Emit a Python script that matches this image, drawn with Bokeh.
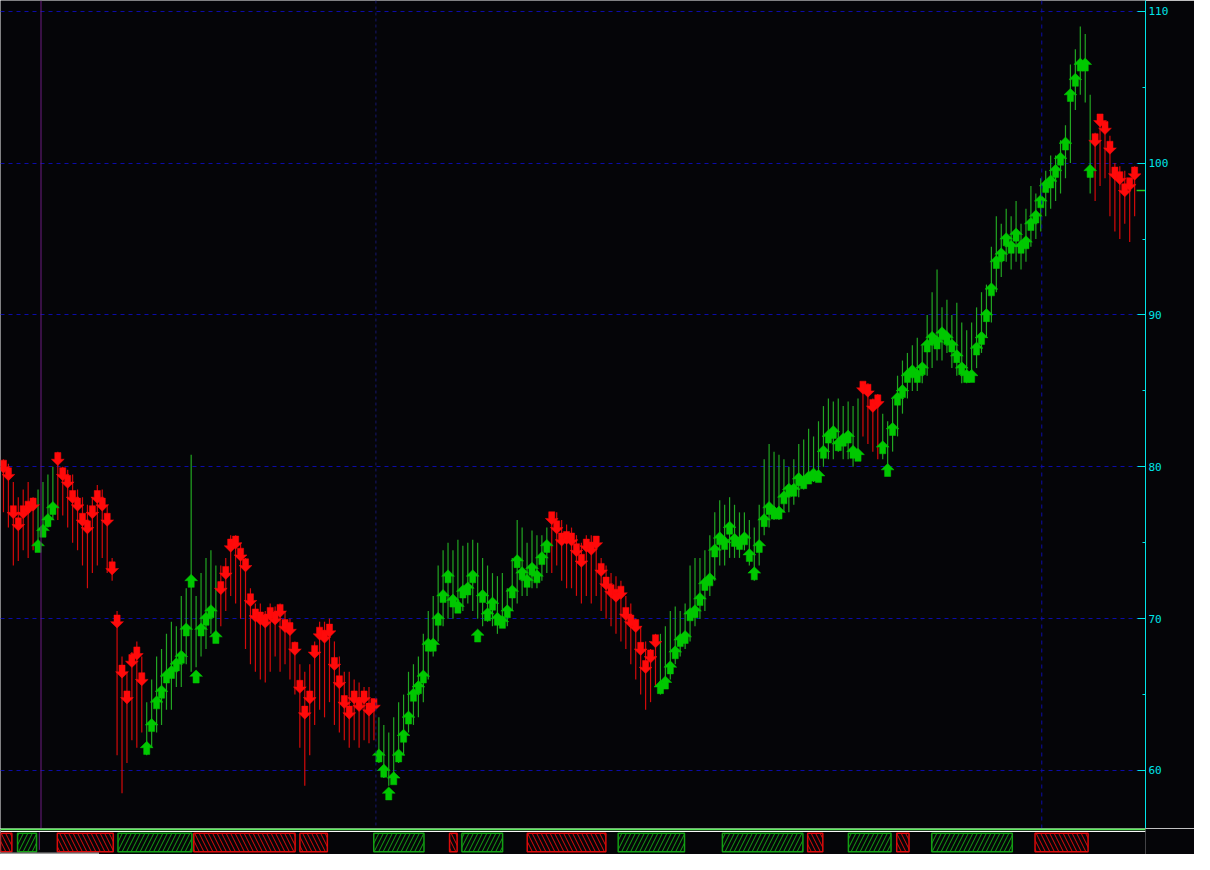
from bokeh.plotting import figure
from bokeh.models import SingleIntervalTicker, Span, ColumnDataSource, Range1d
from bokeh.layouts import column
from bokeh.embed import file_html
from bokeh.resources import INLINE

# ---------------- data ----------------
highs = [
    80.5, 80.2, 79.0, 78.0, 78.5, 79.0, 78.0, 78.5, 79.0, 79.5,
    80.0, 81.0, 80.0, 79.8, 79.5, 78.5, 78.0, 77.5, 78.0, 78.8,
    78.5, 77.5, 74.0, 70.5, 67.5, 66.5, 67.8, 68.5, 67.5, 64.5,
    66.0, 67.5, 68.0, 69.0, 69.8, 69.5, 71.5, 72.0, 80.8, 71.5,
    73.0, 74.0, 74.5, 73.5, 73.5, 74.0, 75.5, 75.5, 75.0, 74.0,
    72.0, 71.0, 71.0, 70.5, 71.0, 70.8, 71.0, 70.5, 70.0, 68.5,
    67.0, 66.5, 67.0, 68.5, 69.8, 69.8, 70.0, 68.5, 67.5, 66.5,
    66.5, 66.0, 65.8, 65.5, 65.5, 64.5, 63.5, 63.0, 62.5, 63.5,
    64.5, 65.0, 66.5, 67.0, 67.5, 69.0, 70.5, 71.5, 73.5, 74.5,
    75.0, 74.5, 75.2, 74.8, 75.0, 75.2, 75.0, 74.0, 73.5, 73.0,
    72.8, 73.0, 72.0, 74.0, 76.5, 76.0, 75.0, 75.8, 75.5, 75.5,
    76.0, 77.0, 77.0, 76.5, 76.2, 76.0, 75.5, 75.0, 75.5, 75.5,
    75.2, 74.0, 73.5, 73.0, 72.8, 72.5, 71.5, 71.0, 70.0, 69.5,
    68.5, 68.0, 69.0, 69.0, 69.5, 70.5, 70.8, 70.5, 71.0, 73.5,
    74.0, 74.0, 74.5, 75.5, 77.0, 77.8, 77.5, 78.0, 77.5, 77.0,
    77.0, 76.5, 76.0, 77.5, 80.5, 81.5, 81.0, 80.8, 80.5, 80.0,
    80.5, 81.5, 81.8, 82.5, 82.0, 83.0, 84.0, 84.5, 84.3, 84.5,
    84.0, 84.3, 84.0, 84.5, 85.5, 85.5, 84.5, 84.8, 83.5, 83.0,
    84.5, 86.0, 87.0, 87.5, 88.0, 88.5, 88.0, 90.0, 91.5, 93.0,
    90.5, 91.0, 90.0, 90.8, 89.5, 89.0, 89.5, 90.5, 91.5, 92.0,
    94.5, 96.5, 96.0, 97.0, 96.5, 97.5, 96.0, 97.0, 98.5, 98.0,
    99.0, 99.5, 100.5, 100.5, 101.5, 102.5, 106.5, 107.5, 109.0, 108.5,
    104.5, 102.0, 103.0, 102.5, 101.8, 100.0, 99.8, 99.5, 99.0, 99.8,
]
lows = [
    77.0, 76.0, 73.5, 73.8, 74.5, 74.0, 74.5, 74.5, 75.5, 76.0,
    76.5, 76.5, 76.8, 76.0, 75.0, 74.5, 73.5, 72.0, 73.0, 73.5,
    74.0, 73.0, 72.5, 61.0, 58.5, 60.5, 62.0, 61.5, 62.5, 61.0,
    61.5, 62.5, 63.0, 64.0, 64.0, 65.5, 65.5, 67.0, 66.5, 66.8,
    67.5, 68.0, 69.0, 68.5, 69.5, 70.5, 71.5, 71.0, 70.0, 68.0,
    67.0, 66.5, 66.0, 65.8, 66.5, 67.5, 66.5, 67.0, 66.0, 65.0,
    61.5, 59.0, 61.0, 63.0, 64.0, 63.5, 64.5, 63.0, 62.5, 62.0,
    61.5, 62.0, 61.5, 62.0, 61.8, 62.0, 60.5, 59.5, 59.0, 59.5,
    60.5, 61.0, 62.5, 63.0, 63.5, 64.5, 66.0, 67.5, 68.5, 69.5,
    70.0, 70.0, 70.5, 70.5, 71.0, 70.5, 70.0, 69.5, 69.8, 69.5,
    69.0, 69.5, 69.5, 70.5, 71.0, 71.5, 71.5, 72.0, 72.0, 72.5,
    73.0, 73.0, 73.5, 72.5, 72.0, 72.0, 71.5, 71.0, 71.5, 71.0,
    71.5, 70.5, 70.0, 69.5, 69.0, 68.5, 68.0, 67.0, 66.0, 65.0,
    64.0, 64.5, 65.5, 65.0, 65.5, 66.0, 67.0, 67.5, 68.0, 68.5,
    69.5, 70.0, 70.5, 71.5, 72.5, 73.5, 73.5, 74.0, 74.0, 74.0,
    74.5, 73.5, 72.5, 73.5, 75.5, 76.0, 76.5, 76.5, 77.0, 77.0,
    77.5, 78.0, 78.5, 79.0, 79.0, 79.5, 80.0, 80.5, 80.5, 81.0,
    80.5, 80.5, 80.0, 81.0, 82.0, 81.5, 81.0, 80.5, 80.5, 80.0,
    81.0, 82.0, 83.5, 84.5, 85.0, 85.0, 85.5, 86.0, 86.5, 87.0,
    87.0, 87.5, 86.5, 86.0, 85.5, 85.5, 86.0, 86.5, 87.5, 88.5,
    89.5, 91.5, 92.5, 93.5, 93.0, 93.5, 93.0, 93.5, 94.5, 95.0,
    95.5, 96.5, 97.0, 97.5, 98.0, 99.0, 100.0, 103.5, 104.5, 104.0,
    98.0, 97.5, 98.5, 99.0, 96.5, 95.5, 95.0, 96.0, 94.8, 96.5,
]
arrow_levels = [
    80.0, 79.5, 77.0, 76.2, 77.0, 77.3, 77.5, 74.8, 75.8, 76.5,
    77.3, 80.5, 79.5, 79.0, 78.0, 77.5, 76.5, 76.0, 77.0, 78.0,
    77.5, 76.5, 73.3, 69.8, 66.5, 64.8, 67.2, 67.7, 66.0, 61.5,
    63.0, 64.5, 65.2, 66.2, 66.5, 67.0, 67.5, 69.3, 72.5, 66.2,
    69.3, 70.0, 70.5, 68.8, 72.0, 73.0, 74.8, 75.0, 74.2, 73.5,
    71.2, 70.2, 70.0, 69.8, 70.3, 70.0, 70.5, 69.5, 69.3, 68.0,
    65.5, 63.8, 64.8, 67.8, 69.0, 68.8, 69.2, 67.0, 65.8, 64.5,
    63.8, 64.8, 64.3, 64.8, 64.0, 64.3, 61.0, 60.0, 58.5, 59.5,
    61.0, 62.3, 63.5, 65.0, 65.5, 66.2, 68.3, 68.3, 70.0, 71.5,
    72.8, 71.2, 70.8, 71.8, 72.0, 72.8, 68.9, 71.5, 70.3, 71.0,
    70.0, 69.8, 70.5, 71.8, 73.8, 73.0, 72.5, 73.3, 72.8, 74.0,
    74.8, 76.6, 76.0, 75.2, 75.3, 75.2, 74.5, 73.8, 74.8, 74.6,
    75.0, 73.2, 72.3, 71.8, 71.5, 71.7, 70.3, 69.8, 69.5, 68.0,
    66.8, 67.5, 68.5, 65.5, 65.8, 66.8, 67.8, 68.6, 68.8, 70.3,
    70.5, 71.3, 72.3, 72.6, 74.5, 75.3, 75.0, 76.0, 75.2, 75.0,
    75.3, 74.2, 73.0, 74.8, 76.5, 77.3, 77.0, 77.0, 78.0, 78.5,
    78.5, 79.2, 79.0, 79.3, 79.5, 79.4, 81.0, 82.0, 82.3, 81.5,
    81.8, 82.0, 81.0, 80.8, 85.2, 85.0, 84.0, 84.3, 81.3, 79.8,
    82.5, 84.5, 85.0, 86.0, 86.3, 86.0, 86.5, 88.0, 88.5, 88.2,
    88.8, 88.5, 88.0, 87.3, 86.5, 86.0, 86.0, 87.8, 88.5, 90.0,
    91.7, 93.5, 94.0, 95.0, 94.5, 95.3, 94.5, 94.8, 96.0, 96.5,
    97.5, 98.5, 98.8, 99.5, 100.3, 101.3, 104.5, 105.5, 106.5, 106.5,
    99.5, 101.5, 102.8, 102.3, 101.0, 99.3, 99.0, 98.2, 98.6, 99.3,
]
# trend direction as (direction, number of bars): 1 = up (green), -1 = down (red)
trend_runs = [(-1, 7), (1, 4), (-1, 18), (1, 15), (-1, 32), (1, 35),
              (-1, 22), (1, 41), (-1, 4), (1, 43), (-1, 9)]
last_price = 98.2

# bottom strip: trend boxes, in bar units
band_start = [-0.6, 3.0, 11.4, 24.2, 40.2, 62.6, 78.2, 94.2, 96.8, 110.6,
              129.8, 151.8, 169.8, 178.4, 188.6, 196.0, 217.8]
band_end = [1.8, 7.0, 23.2, 39.8, 61.6, 68.4, 88.8, 95.8, 105.4, 127.2,
            143.8, 168.8, 173.0, 187.4, 191.2, 213.0, 229.0]
band_dir = [-1, 1, -1, 1, -1, -1, 1, -1, 1, -1, 1, 1, -1, 1, -1, 1, -1]

separators = [7.6, 75.4, 210.2]

# ---------------- styling ----------------
BG = "#050508"
CYAN = "#00e4e8"
GRID = "#0c0ca8"
BAR_UP, BAR_DN = "#22a622", "#d40a0a"
ARR_UP, ARR_DN = "#00c800", "#ff0a0a"

direction = []
for d, n in trend_runs:
    direction += [d] * n
n = len(highs)
idx = list(range(n))

X0, X1 = -0.6, 231.2
FRAME_W = 1145
W, H_TOP, H_STRIP = 1194, 828, 26

p = figure(width=W, height=H_TOP, x_range=Range1d(X0, X1), y_range=Range1d(56.18, 110.71),
           output_backend="svg", toolbar_location=None, x_axis_location=None,
           y_axis_location="right", min_border_left=0, min_border_right=W - FRAME_W,
           min_border_top=0, min_border_bottom=0, background_fill_color=BG,
           border_fill_color=BG, outline_line_color=None)

ax = p.yaxis[0]
ax.ticker = SingleIntervalTicker(interval=10, num_minor_ticks=2)
ax.axis_line_color = CYAN
ax.axis_line_width = 1
ax.major_tick_line_color = CYAN
ax.major_tick_in = 8
ax.major_tick_out = 0
ax.minor_tick_line_color = CYAN
ax.minor_tick_in = 3
ax.minor_tick_out = 0
ax.major_label_text_color = CYAN
ax.major_label_text_font = "DejaVu Sans Mono"
ax.major_label_text_font_size = "11px"
ax.major_label_standoff = 3

p.xgrid.visible = False
p.ygrid.grid_line_color = GRID
p.ygrid.grid_line_dash = "4 4"
p.ygrid.grid_line_width = 1

p.add_layout(Span(location=separators[0], dimension="height", line_color="#6c1c80", line_width=1))
p.add_layout(Span(location=separators[1], dimension="height", line_color="#16166e",
                  line_width=1, line_dash="3 3"))
p.add_layout(Span(location=separators[2], dimension="height", line_color=GRID,
                  line_width=1, line_dash="4 4"))

bar_src = ColumnDataSource(dict(
    x=idx, high=highs, low=lows,
    color=[BAR_UP if d > 0 else BAR_DN for d in direction]))
p.segment(x0="x", y0="low", x1="x", y1="high", line_color="color", line_width=1.2, source=bar_src)

# arrows built from the arrow levels
hw, sw, hh, sh = 1.3, 0.62, 0.42, 0.44
xs, ys, cols = [], [], []
for i, a, d in zip(idx, arrow_levels, direction):
    xs.append([i - hw, i, i + hw, i + sw, i + sw, i - sw, i - sw])
    ys.append([a, a + d * hh, a, a, a - d * sh, a - d * sh, a])
    cols.append(ARR_UP if d > 0 else ARR_DN)
p.patches(xs=xs, ys=ys, fill_color=cols, line_color=cols, line_width=0.5)

p.segment(x0=[n - 0.6], x1=[X1], y0=[last_price], y1=[last_price],
          line_color="#22cc22", line_width=1.5)

# ---------------- bottom strip ----------------
s = figure(width=W, height=H_STRIP, x_range=Range1d(X0, X0 + (X1 - X0) * W / FRAME_W),
           y_range=Range1d(0, 28), output_backend="svg", toolbar_location=None,
           x_axis_location=None, y_axis_location=None, min_border=0,
           background_fill_color=BG, border_fill_color=BG, outline_line_color=None)
s.xgrid.visible = False
s.ygrid.visible = False
s.add_layout(Span(location=27.2, dimension="width", line_color="#5cf05c", line_width=2))
s.add_layout(Span(location=24.8, dimension="width", line_color="#ffffff", line_width=1))

band_src = ColumnDataSource(dict(
    left=band_start, right=band_end,
    color=["#13a013" if d > 0 else "#dd0a0a" for d in band_dir],
    hatch=["/" if d > 0 else "\\" for d in band_dir]))
s.quad(left="left", right="right", bottom=3.0, top=22.8, source=band_src,
       fill_color=BG, line_color="color", line_width=1.5,
       hatch_pattern="hatch", hatch_color="color", hatch_scale=9, hatch_weight=1)
s.segment(x0=[X0], x1=[20.2], y0=[1.0], y1=[1.0], line_color="#9a9a9a", line_width=2)
s.segment(x0=[separators[0]], x1=[separators[0]], y0=[5], y1=[24], line_color="#6c1c80", line_width=1)

layout = column(p, s, spacing=0)
open("out.html", "w").write(file_html(layout, INLINE))
